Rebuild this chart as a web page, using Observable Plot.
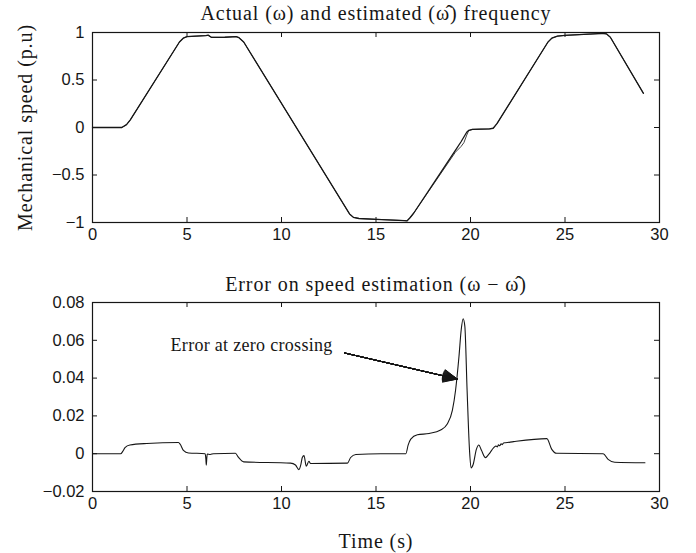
<!DOCTYPE html>
<html><head><meta charset="utf-8">
<script src="https://cdn.jsdelivr.net/npm/d3@7"></script>
<script src="https://cdn.jsdelivr.net/npm/@observablehq/plot@0.6"></script>
<style>
body{margin:0;background:#fff;}
#chart{width:696px;height:553px;overflow:hidden;}
#chart svg{display:block;}
</style></head><body><div id="chart"></div>
<script>
// ---- data ----
const speedTime = [0, 1.55, 1.8, 2.0, 4.6, 4.8, 5.0, 6.0, 6.12, 6.3, 7.0, 7.6, 7.75, 8.0, 13.6, 13.8, 14.1, 15.0, 16.5, 16.65, 16.8, 17.0, 19.2, 19.5, 19.65, 19.8, 19.9, 20.1, 21.0, 21.2, 21.4, 24.1, 24.3, 24.6, 25.0, 27.0, 27.2, 27.4, 29.15];
const actualSpeed = [0, 0, 0.03, 0.08, 0.90, 0.94, 0.957, 0.968, 0.972, 0.948, 0.95, 0.957, 0.945, 0.90, -0.91, -0.945, -0.958, -0.968, -0.98, -0.982, -0.95, -0.9, -0.24, -0.15, -0.10, -0.05, -0.03, -0.02, -0.015, -0.008, 0.04, 0.90, 0.94, 0.962, 0.97, 0.99, 0.985, 0.95, 0.36];
const estimatedSpeed = [0, 0, 0.03, 0.08, 0.90, 0.94, 0.957, 0.968, 0.970, 0.950, 0.95, 0.957, 0.945, 0.90, -0.91, -0.945, -0.958, -0.966, -0.98, -0.982, -0.95, -0.9, -0.26, -0.20, -0.16, -0.08, -0.035, -0.02, -0.015, -0.008, 0.04, 0.90, 0.94, 0.962, 0.97, 0.99, 0.985, 0.95, 0.36];

const errorTime = [0, 1.49, 1.6, 1.72, 1.98, 2.87, 4.55, 4.64, 4.81, 5.08, 5.96, 6.0, 6.02, 6.05, 6.07, 6.23, 6.4, 7.56, 7.73, 8.0, 10.48, 10.74, 10.92, 11.03, 11.1, 11.19, 11.31, 11.45, 11.54, 13.49, 13.66, 13.93, 15.26, 16.58, 16.7, 16.84, 17.19, 17.81, 18.42, 18.77, 19.04, 19.21, 19.39, 19.51, 19.61, 19.7, 19.82, 19.95, 20.03, 20.14, 20.31, 20.44, 20.58, 20.79, 20.96, 21.23, 21.35, 21.42, 21.48, 21.55, 21.62, 21.68, 21.75, 21.85, 22.28, 24.04, 24.3, 24.56, 27.02, 27.28, 27.63, 29.23];
const errorValue = [0, 0, 0.0012, 0.0032, 0.0046, 0.0054, 0.0059, 0.005, 0.0018, 0.0004, 0, -0.003, -0.006, -0.002, -0.0002, -0.0004, 0, 0.0002, -0.002, -0.0043, -0.005, -0.006, -0.0084, -0.0055, -0.002, -0.001, -0.0066, -0.004, -0.0052, -0.005, -0.002, -0.0004, 0, 0, 0.0045, 0.0077, 0.01, 0.0107, 0.0125, 0.0157, 0.0229, 0.0336, 0.0514, 0.0657, 0.0714, 0.0675, 0.0336, 0.0014, -0.0075, -0.0057, 0.0023, 0.0046, 0.0018, -0.0021, -0.0004, 0.0032, 0.0041, 0.0036, 0.0047, 0.0042, 0.0053, 0.0048, 0.0057, 0.0058, 0.0064, 0.008, 0.0023, 0.0002, 0, -0.003, -0.0045, -0.0048];

const timeTicks = [0, 5, 10, 15, 20, 25, 30];
const speedTicks = [-1, -0.5, 0, 0.5, 1];
const errorTicks = [-0.02, 0, 0.02, 0.04, 0.06, 0.08];

const topTitle = "Actual (ω) and estimated (ω\u0302) frequency";
const bottomTitle = "Error on speed estimation (ω \u2212 ω\u0302)";
const speedLabel = "Mechanical speed (p.u)";
const timeLabel = "Time (s)";

const annotationText = ["Error at zero crossing"];
const annotationX = [4.13];
const annotationY = [0.0573];
const arrowStart = [13.33, 0.0533];
const arrowEnd = [19.3, 0.0395];

// ---- build tables ----
const speedData = speedTime.map((t, i) => ({t, actual: actualSpeed[i], estimated: estimatedSpeed[i]}));
const errorData = errorTime.map((t, i) => ({t, e: errorValue[i]}));
const annData = annotationText.map((s, i) => ({s, x: annotationX[i], y: annotationY[i]}));
const arrowData = [{x1: arrowStart[0], y1: arrowStart[1], x2: arrowEnd[0], y2: arrowEnd[1]}];

const serif = "'Liberation Serif', 'Times New Roman', serif";
const sans = "'Liberation Sans', Arial, Helvetica, sans-serif";
const ink = "#161616";
const fmt = d => (d < 0 ? "\u2212" + Math.abs(d) : String(d));

const W = 696, ML = 92, MR = 37;
const frameW = W - ML - MR;
const tickLen = 5;

function boxTicks(xt, yt, frameH) {
  return [
    Plot.tickX(xt, {x: d => d, insetTop: frameH - tickLen, stroke: ink, strokeWidth: 1}),
    Plot.tickX(xt, {x: d => d, insetBottom: frameH - tickLen, stroke: ink, strokeWidth: 1}),
    Plot.tickY(yt, {y: d => d, insetRight: frameW - tickLen, stroke: ink, strokeWidth: 1}),
    Plot.tickY(yt, {y: d => d, insetLeft: frameW - tickLen, stroke: ink, strokeWidth: 1})
  ];
}

const styleBase = {fontFamily: sans, fontSize: "16.5px", color: ink, background: "white", overflow: "visible"};
const serifText = {fontFamily: serif, fontSize: 20, fill: ink, lineAnchor: "middle", textAnchor: "middle"};

// ---- top plot ----
const topH = 270, topMT = 32, topMB = 48;
const topFrameH = topH - topMT - topMB;
const topPlot = Plot.plot({
  width: W, height: topH, marginLeft: ML, marginRight: MR, marginTop: topMT, marginBottom: topMB,
  style: styleBase,
  x: {domain: [0, 30]},
  y: {domain: [-1, 1]},
  marks: [
    Plot.axisX(timeTicks, {tickSize: 0, tickPadding: 6, label: null}),
    Plot.axisY(speedTicks, {tickSize: 0, tickPadding: 8, label: null, tickFormat: fmt}),
    ...boxTicks(timeTicks, speedTicks, topFrameH),
    Plot.line(speedData, {x: "t", y: "estimated", stroke: "#444", strokeWidth: 1, curve: "linear"}),
    Plot.line(speedData, {x: "t", y: "actual", stroke: ink, strokeWidth: 1.3, curve: "linear"}),
    Plot.frame({stroke: ink, strokeWidth: 1.2}),
    Plot.text([topTitle], {...serifText, text: d => d, frameAnchor: "top", dy: -19}),
    Plot.text([speedLabel], {...serifText, text: d => d, frameAnchor: "left", dx: -67, rotate: -90})
  ]
});

// ---- bottom plot ----
const botH = 283, botMT = 32, botMB = 62;
const botFrameH = botH - botMT - botMB;
const headAngles = [50, 46, 42, 38, 34, 30, 26, 22, 18, 14, 10, 6, 2];
const wing = 15;
const botPlot = Plot.plot({
  width: W, height: botH, marginLeft: ML, marginRight: MR, marginTop: botMT, marginBottom: botMB,
  style: styleBase,
  x: {domain: [0, 30]},
  y: {domain: [-0.02, 0.08]},
  marks: [
    Plot.axisX(timeTicks, {tickSize: 0, tickPadding: 6, label: null}),
    Plot.axisY(errorTicks, {tickSize: 0, tickPadding: 8, label: null, tickFormat: fmt}),
    ...boxTicks(timeTicks, errorTicks, botFrameH),
    Plot.line(errorData, {x: "t", y: "e", stroke: ink, strokeWidth: 1.1, curve: "monotone-x"}),
    Plot.frame({stroke: ink, strokeWidth: 1.2}),
    Plot.text([bottomTitle], {...serifText, text: d => d, frameAnchor: "top", dy: -18}),
    Plot.text([timeLabel], {...serifText, text: d => d, frameAnchor: "bottom", dy: 50}),
    Plot.text(annData, {x: "x", y: "y", text: "s", textAnchor: "start", lineAnchor: "middle", fontFamily: serif, fontSize: 18, fill: ink}),
    ...headAngles.map(a => Plot.arrow(arrowData, {x1: "x1", y1: "y1", x2: "x2", y2: "y2", headAngle: a, headLength: wing * 1.5, stroke: ink, strokeWidth: 1}))
  ]
});

const chart = document.getElementById("chart");
chart.appendChild(topPlot);
chart.appendChild(botPlot);

// widen the serif labels slightly (Computer Modern is wider than Times)
for (const svg of [topPlot, botPlot]) {
  svg.querySelectorAll('g[aria-label="text"] text').forEach(t => {
    t.style.letterSpacing = annotationText.includes(t.textContent) ? "0.3px" : "0.9px";
  });
}
</script>
</body></html>
